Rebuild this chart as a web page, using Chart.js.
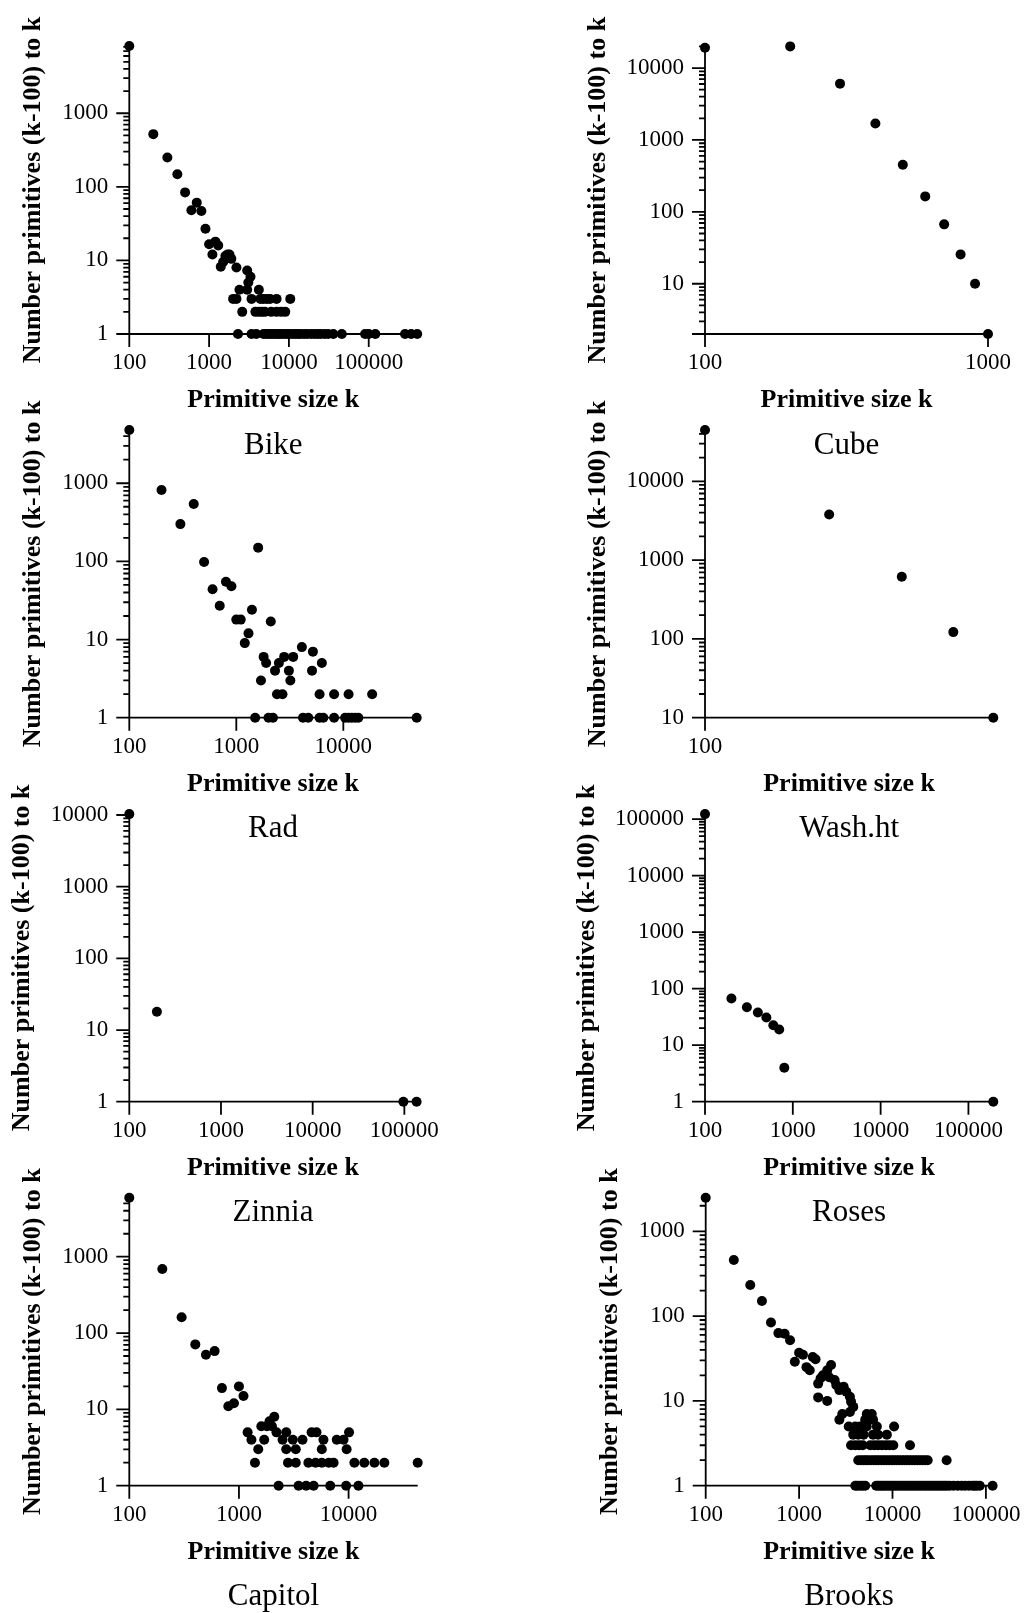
<!DOCTYPE html>
<html>
<head>
<meta charset="utf-8">
<title>Primitive size distributions</title>
<script src="https://cdn.jsdelivr.net/npm/chart.js@4.4.1/dist/chart.umd.min.js"></script>
<style>
  body { margin: 0; background: #fff; }
  #figure { position: relative; width: 1026px; height: 1613px; overflow: hidden; background: #fff; }
  #figure canvas { position: absolute; }
</style>
</head>
<body>
<div id="figure"></div>
<script>
// Primitive size k and number of primitives with size in (k-100, k], one pair of arrays per scene
const bikeK = [100, 200, 300, 400, 500, 600, 700, 800, 900, 1000,
  1100, 1200, 1300, 1400, 1500, 1600, 1700, 1800, 1900, 2000,
  2200, 2200, 2300, 2400, 2600, 3000, 3000, 3100, 3300, 3400,
  3400, 3800, 3900, 4200, 4200, 4400, 4600, 4800, 4800, 5000,
  5200, 5300, 5600, 5800, 6000, 6000, 6500, 7000, 7000, 7000,
  7500, 8000, 8000, 8700, 9000, 9400, 10000, 10400, 11000, 12000,
  13000, 14000, 15500, 17000, 19000, 21000, 23000, 25000, 28000, 31000,
  36000, 46000, 90000, 100000, 121000, 285000, 340000, 405000];
const bikeN = [8200, 520, 250, 148, 84, 48, 61, 47, 27, 16.6,
  12, 18, 16, 8.2, 9.5, 11.5, 12, 12, 10.5, 3,
  3, 8, 1, 4, 2, 7.3, 4, 5, 6, 3,
  1, 2, 1, 4, 2, 3, 2, 3, 1, 2,
  1, 3, 1, 3, 2, 1, 1, 3, 2, 1,
  1, 2, 1, 1, 2, 1, 1, 3, 1, 1,
  1, 1, 1, 1, 1, 1, 1, 1, 1, 1,
  1, 1, 1, 1, 1, 1, 1, 1];

const cubeK = [100, 200, 300, 400, 500, 600, 700, 800, 900, 1000];
const cubeN = [19200, 20000, 6070, 1690, 453, 164, 67, 25.6, 10, 2];

const radK = [100, 200, 300, 400, 500, 600, 700, 800, 900, 1000,
  1100, 1200, 1300, 1400, 1500, 1600, 1700, 1800, 1900, 2000,
  2100, 2200, 2300, 2400, 2500, 2700, 2800, 3100, 3200, 3400,
  4100, 4200, 4700, 5100, 5200, 6000, 6000, 6300, 6500, 8200,
  8200, 10400, 11200, 11200, 12000, 12900, 13800, 18600, 48500];
const radN = [4800, 820, 300, 543, 98, 44, 27, 55, 48, 18,
  18, 9, 12, 24, 1, 150, 3, 6, 5, 1,
  17, 1, 4, 2, 5, 2, 6, 4, 3, 6,
  8, 1, 1, 4, 7, 2, 1, 5, 1, 2,
  1, 1, 2, 1, 1, 1, 1, 2, 1];

const washK = [100, 200, 300, 400, 500];
const washN = [44800, 3800, 614, 122, 10];

const zinniaK = [100, 200, 97600, 136000];
const zinniaN = [10300, 18, 1, 1];

const rosesK = [100, 200, 300, 400, 500, 600, 700, 800, 192000];
const rosesN = [123000, 67, 47, 38, 31, 22.5, 19, 4, 1];

const capitolK = [100, 200, 300, 400, 500, 600, 700, 800, 900, 1000,
  1100, 1200, 1300, 1400, 1500, 1600, 1700, 1800, 1900, 2000,
  2100, 2200, 2300, 2500, 2700, 2700, 2800, 3100, 3300, 3300,
  3500, 3800, 4100, 4300, 4600, 4800, 5000, 5100, 5700, 5700,
  5900, 6600, 6800, 7300, 7800, 9000, 9500, 9600, 10100, 11300,
  12300, 13900, 17200, 21200, 42700];
const capitolN = [5930, 690, 161, 71, 52, 58, 19, 11, 12, 20,
  15, 5, 4, 2, 3, 6, 4, 6, 7, 6,
  8, 5, 1, 4, 5, 3, 2, 4, 3, 2,
  1, 4, 1, 2, 5, 1, 2, 5, 3, 2,
  4, 2, 1, 2, 4, 4, 1, 3, 5, 2,
  1, 2, 2, 2, 2];

const brooksK = [100, 200, 300, 400, 500, 600, 700, 800, 900, 1000,
  1100, 1200, 1300, 1400, 1500, 1600, 1600, 1700, 1800, 2000,
  2000, 2100, 2200, 2400, 2500, 2700, 2700, 2900, 3000, 3200,
  3400, 3500, 3500, 3600, 3600, 3800, 3800, 4000, 4000, 4000,
  4200, 4300, 4300, 4400, 4500, 4500, 4600, 4800, 4800, 4900,
  4900, 4900, 5100, 5100, 5200, 5300, 5300, 5500, 5500, 5800,
  5900, 6000, 6200, 6200, 6300, 6400, 6700, 6700, 6800, 7000,
  7000, 7100, 7100, 7500, 7600, 7700, 7900, 8100, 8300, 8500,
  8600, 8700, 8800, 9200, 9300, 9300, 9800, 9800, 10200, 10400,
  10400, 10400, 11000, 11100, 11700, 11800, 12400, 12600, 13200, 13400,
  14000, 14300, 14900, 15200, 15400, 15800, 16200, 16800, 17300, 17800,
  18400, 18900, 19600, 20000, 20900, 21300, 22300, 22600, 23800, 24000,
  25500, 27000, 28600, 30300, 32100, 34000, 36100, 38000, 38300, 41000,
  45000, 50000, 55000, 60000, 66000, 72000, 76000, 80000, 86000, 118000];
const brooksN = [2490, 459, 233, 151, 84, 63, 62, 52, 29, 37,
  35, 25, 23, 33, 31, 16, 11, 18.5, 20, 10,
  23, 19, 26.5, 17.6, 15.4, 13.4, 6, 7, 14.7, 12.8,
  5, 11.2, 7.4, 9.8, 3, 8.5, 4, 5, 3, 1,
  1, 4, 2, 3, 5, 1, 2, 3, 1, 5,
  4, 2, 6, 1, 2, 7, 5, 6, 2, 3,
  2, 7, 6, 4, 2, 3, 2, 1, 5, 3,
  4, 2, 1, 1, 2, 3, 1, 2, 1, 3,
  2, 4, 1, 2, 3, 1, 2, 1, 3, 5,
  2, 1, 1, 2, 1, 2, 1, 2, 1, 2,
  1, 2, 1, 2, 3, 1, 2, 1, 2, 1,
  2, 1, 2, 1, 2, 1, 2, 1, 2, 1,
  1, 1, 1, 1, 1, 1, 1, 2, 1, 1,
  1, 1, 1, 1, 1, 1, 1, 1, 1, 1];

const panelNames = ['Bike', 'Cube', 'Rad', 'Wash.ht', 'Zinnia', 'Roses', 'Capitol', 'Brooks'];
const decadeTicks = [1, 10, 100, 1000, 10000, 100000];
const xAxisTitle = 'Primitive size k';
const yAxisTitle = 'Number primitives (k-100) to k';

// Plot area of each panel on the page: [left, right, top, bottom], plus the y title centre
const panels = [
  { name: panelNames[0], k: bikeK, n: bikeN, area: [129.3, 417.2, 46, 334], titleX: 33.5 },
  { name: panelNames[1], k: cubeK, n: cubeN, area: [705, 993.3, 46.4, 334], titleX: 598 },
  { name: panelNames[2], k: radK, n: radN, area: [129.3, 416.7, 430, 717.7], titleX: 33.5 },
  { name: panelNames[3], k: washK, n: washN, area: [705, 993.3, 430, 717.7], titleX: 598 },
  { name: panelNames[4], k: zinniaK, n: zinniaN, area: [129.3, 416.6, 814.1, 1101.7], titleX: 22.5 },
  { name: panelNames[5], k: rosesK, n: rosesN, area: [705, 993.3, 814.1, 1101.7], titleX: 587.5 },
  { name: panelNames[6], k: capitolK, n: capitolN, area: [129.3, 417.7, 1197.7, 1485.7], titleX: 33.5 },
  { name: panelNames[7], k: brooksK, n: brooksN, area: [705.7, 992.6, 1197.7, 1485.7], titleX: 610 }
];

const COL_W = 513;
const TICK_FONT = 23;
const TITLE_FONT = 26;
const CAPTION_FONT = 31;
const X_AXIS_H = 82;
const CAPTION_PAD = 11;

Chart.defaults.font.family = '"Liberation Serif", "Times New Roman", Times, serif';
Chart.defaults.color = '#000';

const isDecade = v => decadeTicks.includes(v);
const exp10 = v => Math.floor(Math.log10(v) + 1e-9);

// Axis lines and tick marks: long ticks at decades (and at the low end), short ones in between
const logAxes = {
  id: 'logAxes',
  beforeDatasetsDraw(chart) {
    const { ctx, chartArea: a, scales: { x, y } } = chart;
    ctx.save();
    ctx.strokeStyle = '#000';
    ctx.lineWidth = 1.8;
    ctx.beginPath();
    ctx.moveTo(a.left, a.top);
    ctx.lineTo(a.left, a.bottom);
    ctx.lineTo(a.right, a.bottom);

    for (let e = exp10(y.min); e <= exp10(y.max); e++) {
      for (let m = 1; m <= 9; m++) {
        const v = m * Math.pow(10, e);
        if (v < y.min || v > y.max) continue;
        const py = y.getPixelForValue(v);
        const len = (m === 1 || v === y.min) ? 13 : 6;
        ctx.moveTo(a.left - len, py);
        ctx.lineTo(a.left, py);
      }
    }

    for (let e = exp10(x.min); e <= exp10(x.max); e++) {
      const v = Math.pow(10, e);
      if (v < x.min || v > x.max) continue;
      const px = x.getPixelForValue(v);
      ctx.moveTo(px, a.bottom);
      ctx.lineTo(px, a.bottom + 13);
    }
    ctx.stroke();
    ctx.restore();
  }
};

const figure = document.getElementById('figure');

panels.forEach(p => {
  const [left, right, top, bottom] = p.area;
  const colX = left < COL_W ? 0 : COL_W;
  const canvasTop = Math.floor(top) - 40;
  const padLeft = p.titleX - colX - TITLE_FONT * 1.2 / 2;
  const yAxisW = left - colX - padLeft;
  const used = bottom - canvasTop + X_AXIS_H + CAPTION_FONT * 1.2 + CAPTION_PAD;
  const height = Math.ceil(used) + 6;

  const canvas = document.createElement('canvas');
  canvas.width = COL_W;
  canvas.height = height;
  canvas.style.left = colX + 'px';
  canvas.style.top = canvasTop + 'px';
  figure.appendChild(canvas);

  new Chart(canvas, {
    type: 'scatter',
    data: {
      datasets: [{
        data: p.k.map((k, i) => ({ x: k, y: p.n[i] })),
        backgroundColor: '#000',
        borderWidth: 0,
        pointRadius: 5,
        pointHoverRadius: 5,
        clip: false
      }]
    },
    options: {
      responsive: false,
      animation: false,
      devicePixelRatio: 1,
      layout: {
        autoPadding: false,
        padding: { left: padLeft, top: top - canvasTop, right: colX + COL_W - right, bottom: height - used }
      },
      plugins: {
        legend: { display: false },
        tooltip: { enabled: false },
        title: {
          display: true,
          text: p.name,
          position: 'bottom',
          fullSize: false,
          font: { size: CAPTION_FONT, weight: 'normal' },
          padding: { top: CAPTION_PAD, bottom: 0 }
        }
      },
      scales: {
        x: {
          type: 'logarithmic',
          position: 'bottom',
          min: Math.min(...p.k),
          max: Math.max(...p.k),
          grid: { display: false, drawTicks: false },
          border: { display: false },
          ticks: {
            autoSkip: false, maxRotation: 0, minRotation: 0, padding: 15,
            font: { size: TICK_FONT },
            callback: v => isDecade(v) ? String(v) : ''
          },
          title: {
            display: true, text: xAxisTitle,
            font: { size: TITLE_FONT, weight: 'bold' },
            padding: { top: 0, bottom: 0 }
          },
          afterFit: s => { s.height = X_AXIS_H; }
        },
        y: {
          type: 'logarithmic',
          position: 'left',
          min: Math.min(...p.n),
          max: Math.max(...p.n),
          grid: { display: false, drawTicks: false },
          border: { display: false },
          ticks: {
            autoSkip: false, padding: 21,
            font: { size: TICK_FONT },
            callback: v => isDecade(v) ? String(v) : ''
          },
          title: {
            display: true, text: yAxisTitle,
            font: { size: TITLE_FONT, weight: 'bold' },
            padding: { top: 0, bottom: 0 }
          },
          afterFit: s => { s.width = yAxisW; }
        }
      }
    },
    plugins: [logAxes]
  });
});
</script>
</body>
</html>
